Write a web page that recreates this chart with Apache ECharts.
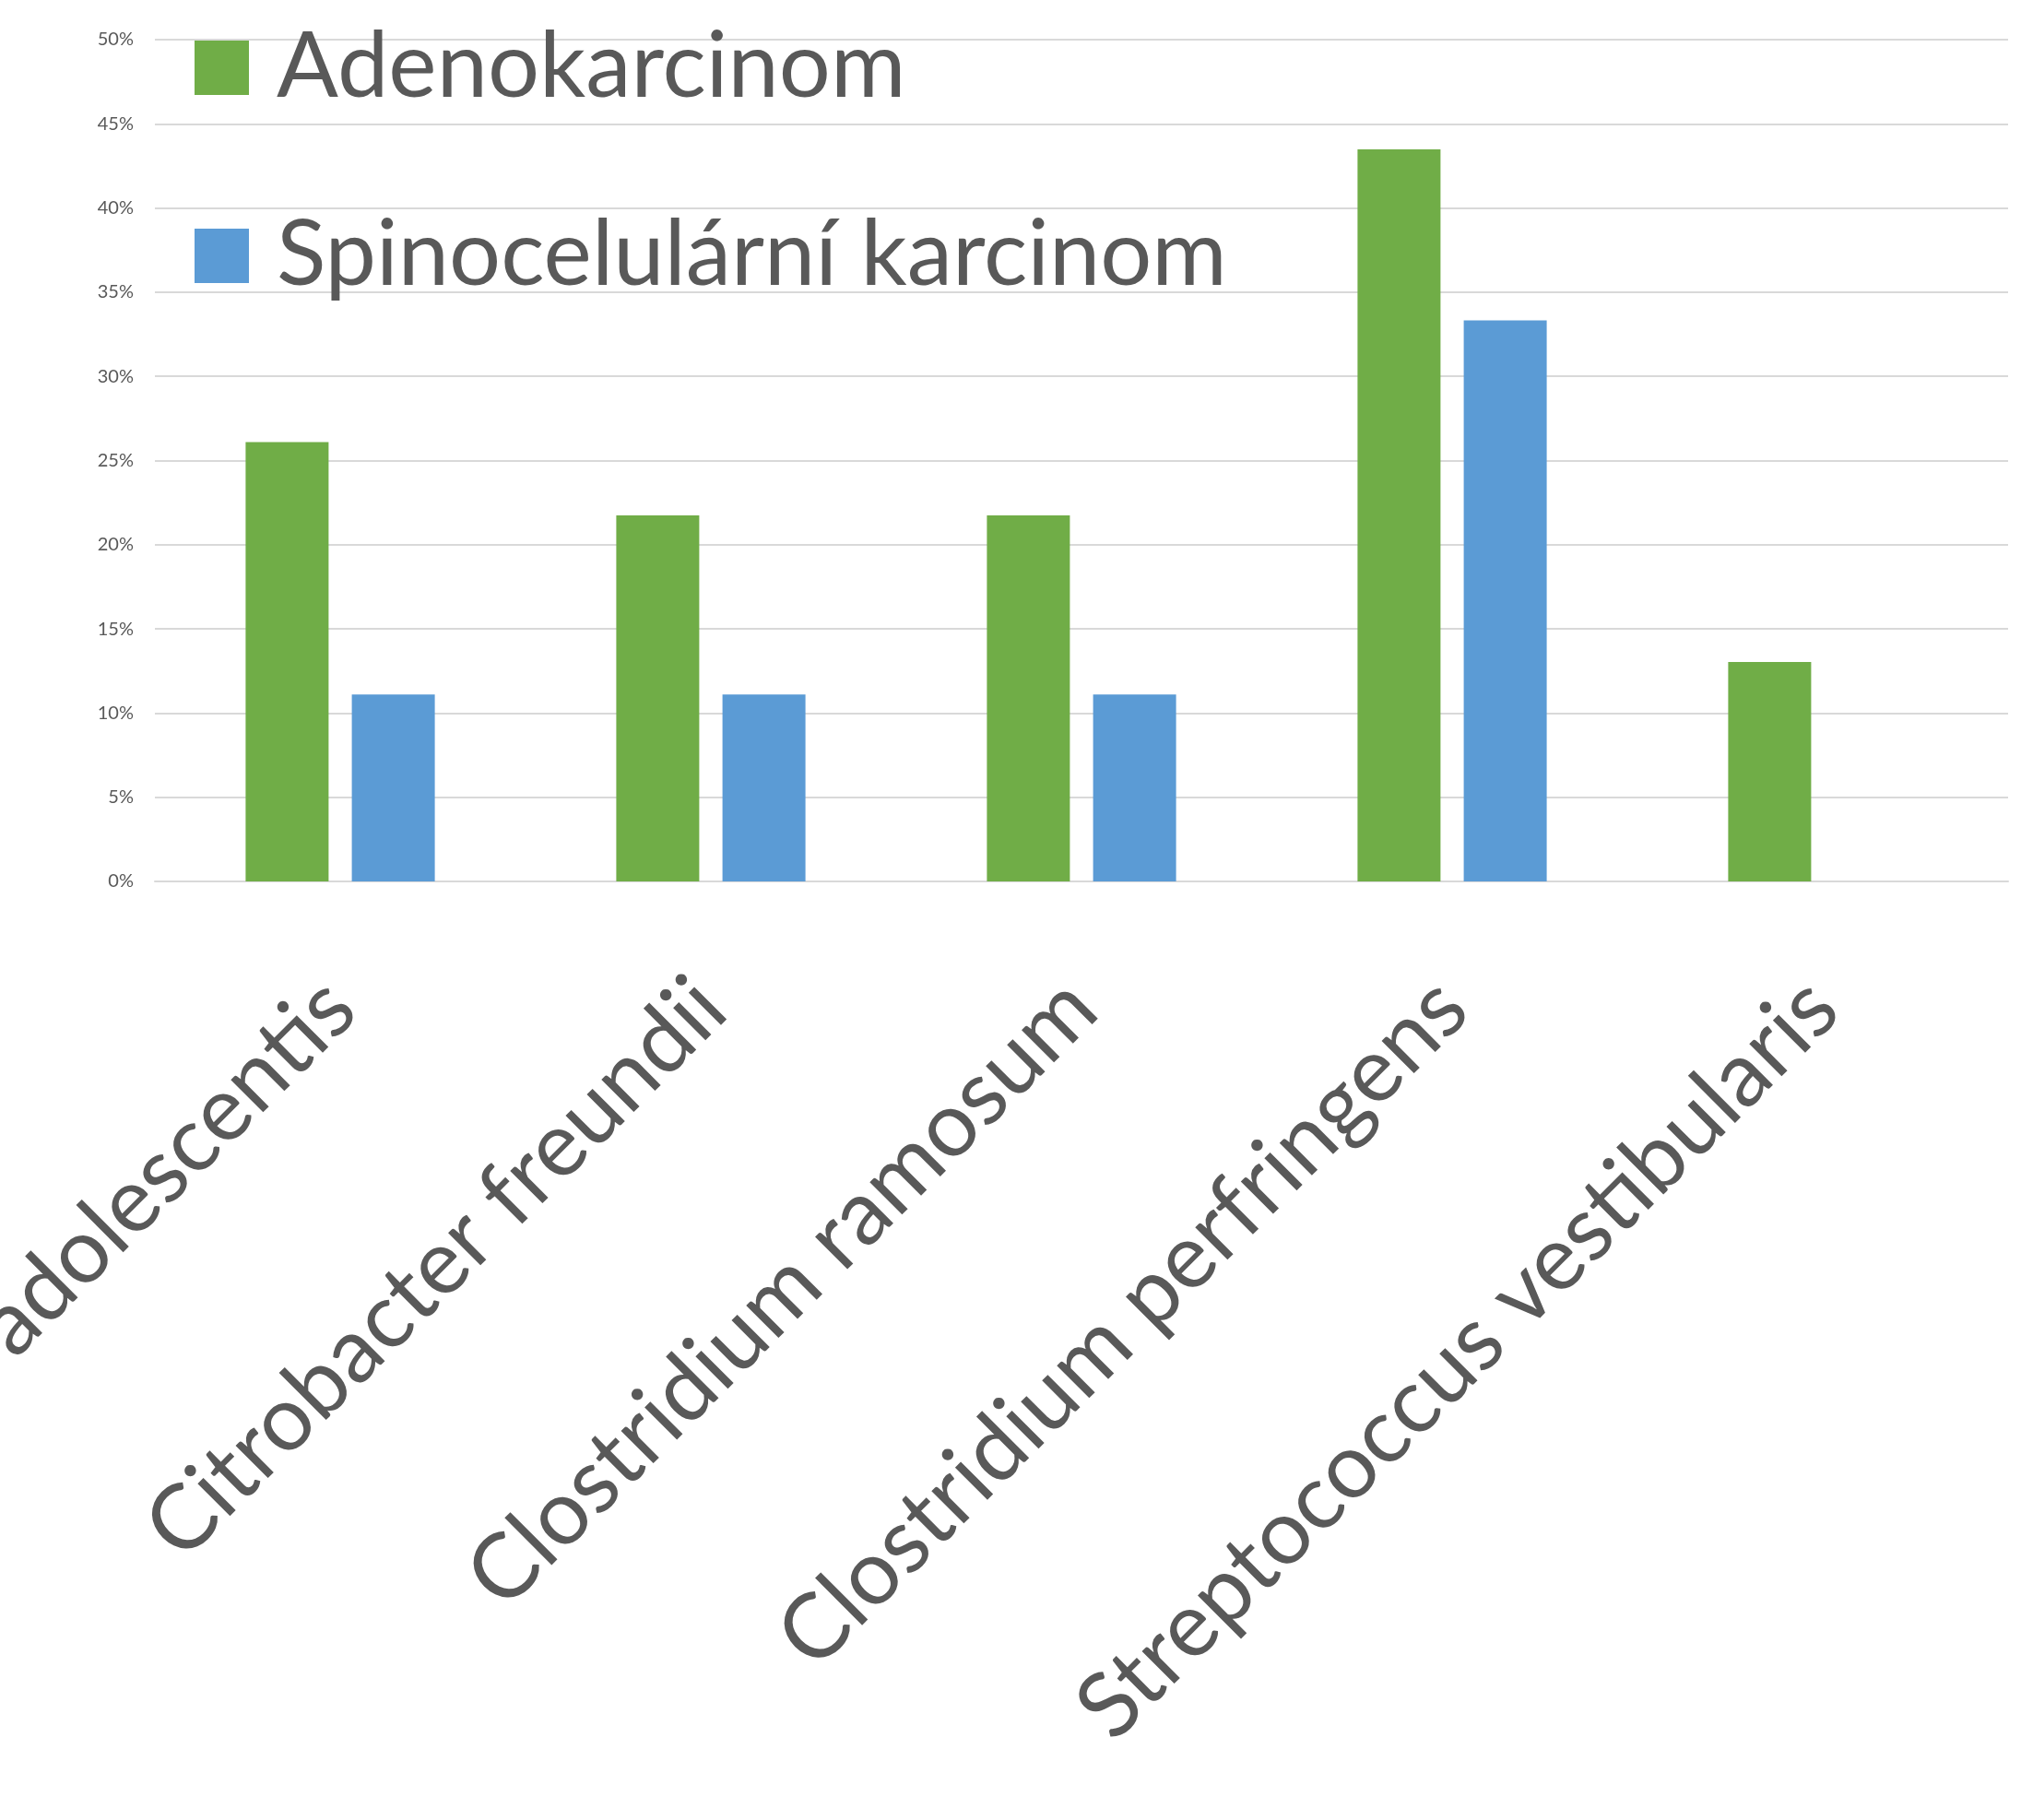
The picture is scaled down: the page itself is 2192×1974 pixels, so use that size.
<!DOCTYPE html>
<html>
<head>
<meta charset="utf-8">
<script src="https://cdn.jsdelivr.net/npm/echarts@6/dist/echarts.min.js"></script>
<style>
  html, body { margin: 0; padding: 0; background: #ffffff; }
  #chart { width: 2192px; height: 1974px; }
</style>
</head>
<body>
<div id="chart"></div>
<script>
const categories = [
  'Bifidobacterium adolescentis',
  'Citrobacter freundii',
  'Clostridium ramosum',
  'Clostridium perfringens',
  'Streptococcus vestibularis'
];
const seriesNames = ['Adenokarcinom', 'Spinocelulární karcinom'];
const adenokarcinom = [26.09, 21.74, 21.74, 43.48, 13.04];
const spinocelularni = [11.11, 11.11, 11.11, 33.33, 0];
const yTicks = [0, 5, 10, 15, 20, 25, 30, 35, 40, 45, 50];

const textColor = '#595959';
const fontFamily = 'Lato, "Open Sans", sans-serif';

const chart = echarts.init(document.getElementById('chart'), null, { renderer: 'canvas' });
chart.setOption({
  backgroundColor: '#ffffff',
  animation: false,
  textStyle: { fontFamily: fontFamily, color: textColor },
  grid: { left: 168, right: 14, top: 43, bottom: 1018, containLabel: false, outerBoundsMode: 'none' },
  legend: {
    orient: 'vertical',
    left: 206,
    top: 11,
    itemWidth: 59,
    itemHeight: 59,
    itemGap: 89,
    icon: 'rect',
    data: seriesNames,
    textStyle: {
      fontFamily: fontFamily,
      fontSize: 99,
      lineHeight: 115,
      color: textColor,
      padding: [0, 0, 0, 25]
    }
  },
  xAxis: {
    type: 'category',
    data: categories,
    axisLine: { show: true, lineStyle: { color: '#D9D9D9', width: 2 } },
    axisTick: { show: false },
    axisLabel: {
      interval: 0,
      rotate: 45,
      margin: 122,
      fontFamily: fontFamily,
      fontSize: 98,
      color: textColor
    }
  },
  yAxis: {
    type: 'value',
    min: yTicks[0],
    max: yTicks[yTicks.length - 1],
    interval: 5,
    axisLine: { show: false },
    axisTick: { show: false },
    splitLine: { show: true, lineStyle: { color: '#D9D9D9', width: 2 } },
    axisLabel: {
      formatter: '{value}%',
      margin: 23,
      fontFamily: fontFamily,
      fontSize: 20,
      color: textColor
    }
  },
  series: [
    {
      name: seriesNames[0],
      type: 'bar',
      data: adenokarcinom,
      barWidth: 90,
      barGap: '28%',
      itemStyle: { color: '#70AD47' }
    },
    {
      name: seriesNames[1],
      type: 'bar',
      data: spinocelularni,
      barWidth: 90,
      barGap: '28%',
      itemStyle: { color: '#5B9BD5' }
    }
  ]
});
</script>
</body>
</html>
